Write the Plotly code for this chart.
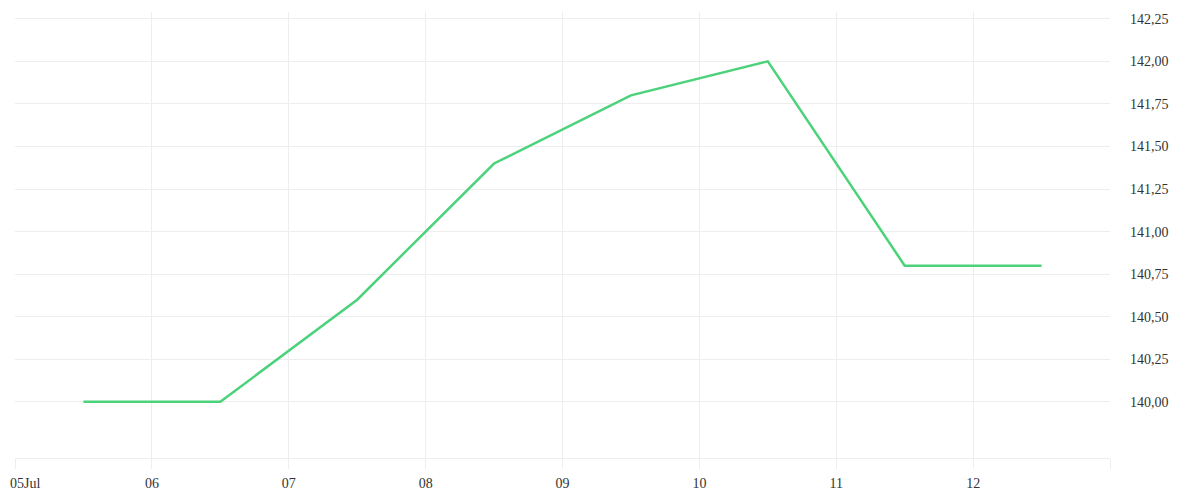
import plotly.graph_objects as go

# daily values, plotted at midday
dates = ["2023-07-05 12:00", "2023-07-06 12:00", "2023-07-07 12:00", "2023-07-08 12:00",
         "2023-07-09 12:00", "2023-07-10 12:00", "2023-07-11 12:00", "2023-07-12 12:00"]
values = [140.00, 140.00, 140.60, 141.40, 141.80, 142.00, 140.80, 140.80]

tick_dates = ["2023-07-05", "2023-07-06", "2023-07-07", "2023-07-08", "2023-07-09",
              "2023-07-10", "2023-07-11", "2023-07-12", "2023-07-13"]
# first label ("05Jul") is drawn separately so it isn't cut at the left edge
first_label = "05Jul"
tick_labels = ["", "06", "07", "08", "09", "10", "11", "12", ""]

y_ticks = [140.00, 140.25, 140.50, 140.75, 141.00, 141.25, 141.50, 141.75, 142.00, 142.25]

grid = "#eeeeee"
font = dict(family="Liberation Serif", size=14, color="#333333")

fig = go.Figure()
fig.add_trace(go.Scatter(
    x=dates, y=values, mode="lines",
    line=dict(color="#4cd27a", width=2.5),
    hoverinfo="x+y",
))

# the page body adds 8px, so margins are offset to land the plot where it should be
fig.update_layout(
    width=1200, height=500,
    margin=dict(l=7, r=98, t=4, b=50),
    paper_bgcolor="white", plot_bgcolor="white",
    separators=",.",
    showlegend=False,
    font=font,
)
fig.update_xaxes(
    range=["2023-07-05", "2023-07-13"],
    tickvals=tick_dates, ticktext=tick_labels,
    showgrid=True, gridcolor=grid, gridwidth=1,
    ticks="outside", ticklen=10, tickcolor=grid,
    showline=True, linecolor=grid, zeroline=False,
    automargin=False, tickfont=font, ticklabelstandoff=2,
)
fig.update_yaxes(
    side="right", range=[139.67, 142.29],
    tickvals=y_ticks, tickformat=".2f",
    showgrid=True, gridcolor=grid, gridwidth=1,
    ticks="", ticklabelstandoff=19,
    showline=False, zeroline=False,
    automargin=False, tickfont=font,
)

fig.add_annotation(
    x=tick_dates[0], xref="x", y=0, yref="paper",
    text=first_label, showarrow=False, font=font,
    xanchor="left", yanchor="middle", xshift=-7, yshift=-25,
)

fig.write_html("out.html")
